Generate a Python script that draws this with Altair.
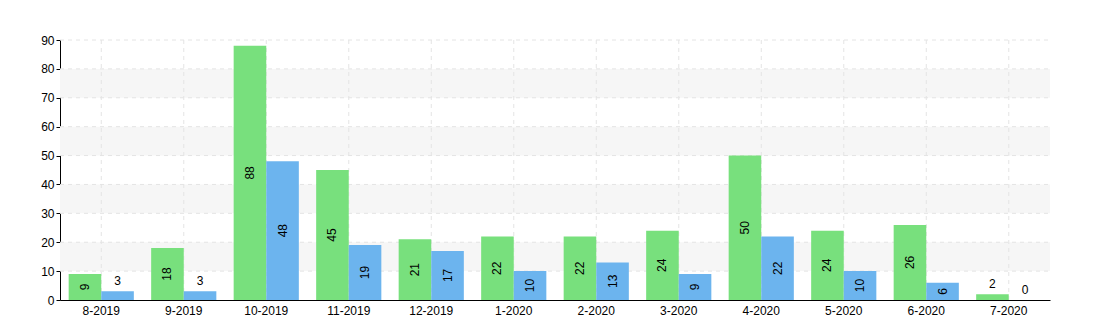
import altair as alt
import pandas as pd

months = ["8-2019", "9-2019", "10-2019", "11-2019", "12-2019", "1-2020",
          "2-2020", "3-2020", "4-2020", "5-2020", "6-2020", "7-2020"]
series_a = [9, 18, 88, 45, 21, 22, 22, 24, 50, 24, 26, 2]
series_b = [3, 3, 48, 19, 17, 10, 13, 9, 22, 10, 6, 0]
series_names = ["A", "B"]
colors = ["#78e07d", "#6cb4ee"]
band_lo = [10, 30, 50, 70]
band_hi = [20, 40, 60, 80]
y_ticks = [0, 10, 20, 30, 40, 50, 60, 70, 80, 90]
grid_vals = [10, 20, 30, 40, 50, 60, 70, 80, 90]

rows = []
for m, a, b in zip(months, series_a, series_b):
    rows.append({"month": m, "series": "A", "value": a})
    rows.append({"month": m, "series": "B", "value": b})
df = pd.DataFrame(rows)
df["half"] = df["value"] / 2

bands = pd.DataFrame({"lo": band_lo, "hi": band_hi})
grid_y = pd.DataFrame({"v": grid_vals})
grid_x = pd.DataFrame({"month": months})

W, H = 990, 260
xscale = alt.Scale(domain=months, paddingInner=0.21, paddingOuter=0.105)
yscale = alt.Scale(domain=[0, 90], nice=False)

y_axis = alt.Axis(title=None, values=y_ticks, grid=False, labelOverlap=False,
                  domainColor="#000000", tickColor="#000000", tickSize=4,
                  labelColor="#000000", labelFontSize=12,
                  labelFont="Liberation Sans", labelPadding=2)
x_axis = alt.Axis(title=None, labelAngle=0, ticks=False, grid=False,
                  bandPosition=0.5, labelAlign="center", labelFlush=False,
                  labelOverlap=False,
                  domainColor="#000000", labelColor="#000000",
                  labelFontSize=12, labelFont="Liberation Sans",
                  labelPadding=5)

def X():
    return alt.X("month:N", scale=xscale, sort=months, axis=x_axis)

def Y(field):
    return alt.Y(field, scale=yscale, axis=y_axis)

band_layer = alt.Chart(bands).mark_rect(color="#f6f6f6").encode(
    x=alt.value(0), x2=alt.value(W),
    y=Y("lo:Q"), y2="hi:Q",
)

hgrid = alt.Chart(grid_y).mark_rule(color="#e4e4e4", strokeDash=[4, 4], strokeWidth=1).encode(
    y=Y("v:Q"), x=alt.value(0), x2=alt.value(W)
)

vgrid = alt.Chart(grid_x).mark_rule(color="#e4e4e4", strokeDash=[4, 4], strokeWidth=1).encode(
    x=X(), y=alt.value(0), y2=alt.value(H)
)

bars = alt.Chart(df).mark_bar().encode(
    x=X(),
    xOffset=alt.XOffset("series:N", sort=series_names, scale=alt.Scale(paddingInner=0, paddingOuter=0)),
    y=Y("value:Q"),
    color=alt.Color("series:N", scale=alt.Scale(domain=series_names, range=colors), legend=None),
)

text_in = alt.Chart(df).transform_filter("datum.value >= 5").mark_text(
    angle=270, fontSize=12, font="Liberation Sans", color="#000000",
    align="center", baseline="middle"
).encode(
    x=X(),
    xOffset=alt.XOffset("series:N", sort=series_names),
    y=Y("half:Q"),
    text="value:Q",
)

text_out = alt.Chart(df).transform_filter("datum.value < 5").mark_text(
    fontSize=12, font="Liberation Sans", color="#000000",
    align="center", baseline="bottom", dy=-3
).encode(
    x=X(),
    xOffset=alt.XOffset("series:N", sort=series_names),
    y=Y("value:Q"),
    text="value:Q",
)

chart = alt.layer(band_layer, hgrid, vgrid, bars, text_in, text_out).properties(
    width=W, height=H,
    background="#ffffff",
    autosize=alt.AutoSizeParams(type="none"),
    padding={"left": 60, "top": 40, "right": 50, "bottom": 30},
).configure_view(stroke=None)

chart.save("out.html", embed_options={"renderer": "svg", "actions": False})
